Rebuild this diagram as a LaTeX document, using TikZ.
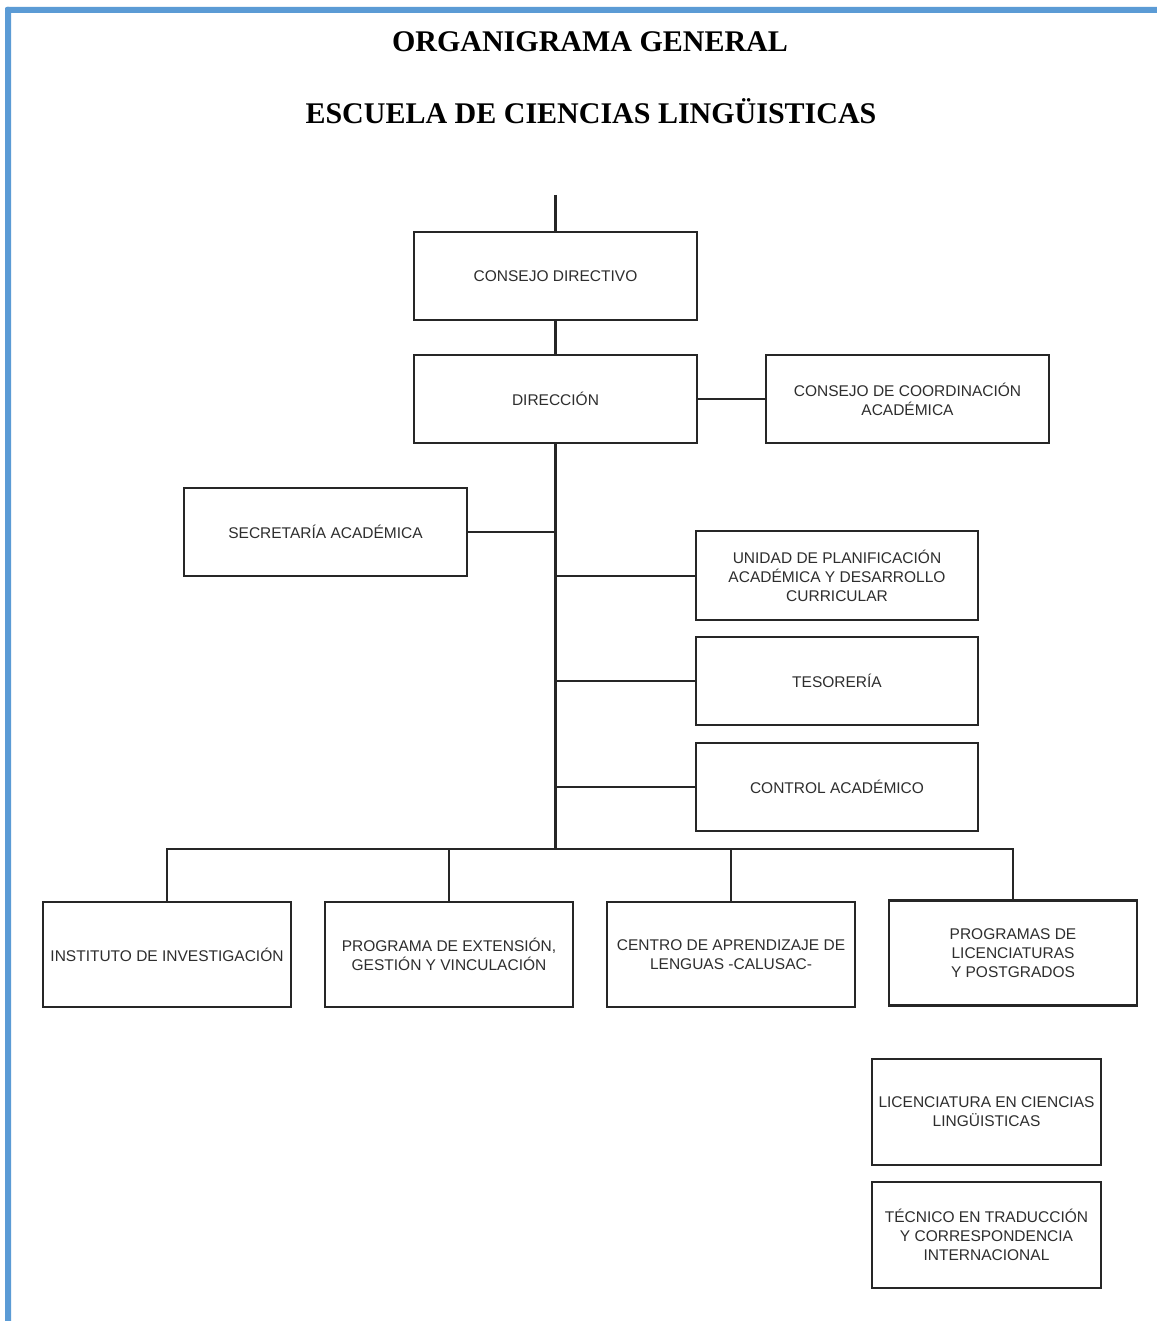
\documentclass[tikz,border=0pt]{standalone}
\usepackage{fontspec}
\setmainfont{Liberation Serif}
\newfontfamily\boxfont{Liberation Sans}
\definecolor{frameblue}{HTML}{5B9BD5}
\definecolor{inkgray}{HTML}{2E2E2E}
\begin{document}
\begin{tikzpicture}[x=1pt,y=-1pt,
  orgbox/.style={draw=black!85, line width=2.4pt, rectangle, inner sep=0pt, outer sep=0pt,
    align=center, text=inkgray, font=\boxfont\fontsize{15.5}{19}\selectfont},
  wide/.style={orgbox, minimum width=283pt, minimum height=88pt},
  low/.style={orgbox, minimum width=248pt, minimum height=105pt},
  prog/.style={orgbox, minimum width=229pt, minimum height=106pt},
  link/.style={draw=black!85, line width=2.4pt},
  titletext/.style={font=\bfseries\fontsize{30}{36}\selectfont, text=black, inner sep=0pt}]
\useasboundingbox (0,0) rectangle (1156,1321);
\fill[white] (0,0) rectangle (1156,1321);
% blue frame (left and top)
\fill[frameblue, rounded corners=2pt] (5,7) rectangle (1160,13);
\fill[frameblue, rounded corners=2pt] (5,7) rectangle (11,1325);

% titles
\node[titletext] (t1) at (590,42) {ORGANIGRAMA GENERAL};
\node[titletext] (t2) at (591,111) {ESCUELA DE CIENCIAS LINGÜISTICAS};

% boxes
\node[wide] (cd) at (555.5,276) {CONSEJO DIRECTIVO};
\node[wide] (dir) at (555.5,399) {DIRECCIÓN};
\node[wide] (cca) at (907.5,399) {CONSEJO DE COORDINACIÓN\\ACADÉMICA};
\node[wide] (sec) at (325.5,532) {SECRETARÍA ACADÉMICA};
\node[wide, minimum width=282pt, minimum height=89pt] (upa) at (837,575.5) {UNIDAD DE PLANIFICACIÓN\\ACADÉMICA Y DESARROLLO\\CURRICULAR};
\node[wide, minimum width=282pt] (tes) at (837,681) {TESORERÍA};
\node[wide, minimum width=282pt] (ctrl) at (837,787) {CONTROL ACADÉMICO};

\node[low] (inst) at (167,954.5) {INSTITUTO DE INVESTIGACIÓN};
\node[low] (ext) at (449,954.5) {PROGRAMA DE EXTENSIÓN,\\GESTIÓN Y VINCULACIÓN};
\node[low] (cal) at (731,954.5) {CENTRO DE APRENDIZAJE DE\\LENGUAS -CALUSAC-};
\node[low] (plp) at (1013,953) {PROGRAMAS DE\\LICENCIATURAS\\Y POSTGRADOS};

\node[prog] (lcl) at (986.5,1112) {LICENCIATURA EN CIENCIAS\\LINGÜISTICAS};
\node[prog] (ttc) at (986.5,1235) {TÉCNICO EN TRADUCCIÓN\\Y CORRESPONDENCIA\\INTERNACIONAL};

% connectors
\coordinate (topend) at (555.5,195);
\coordinate (jsec) at (555.5,532);
\coordinate (jupa) at (555.5,576);
\coordinate (jtes) at (555.5,681);
\coordinate (jctrl) at (555.5,787);
\coordinate (bus) at (555.5,849);
\coordinate (busL) at (167,849);
\coordinate (busR) at (1013,849);

\draw[link] (topend) -- (cd.north);
\draw[link] (cd.south) -- (dir.north);
\draw[link] (dir.east) -- (cca.west);
\draw[link] (dir.south) -- (bus);
\draw[link] (sec.east) -- (jsec);
\draw[link] (jupa) -- (upa.west |- jupa);
\draw[link] (jtes) -- (tes.west);
\draw[link] (jctrl) -- (ctrl.west);
\draw[link, line cap=rect] (busL) -- (busR);
\draw[link] (busL) -- (inst.north);
\draw[link] (ext.north |- bus) -- (ext.north);
\draw[link] (cal.north |- bus) -- (cal.north);
\draw[link] (busR) -- (plp.north);
\end{tikzpicture}
\end{document}
